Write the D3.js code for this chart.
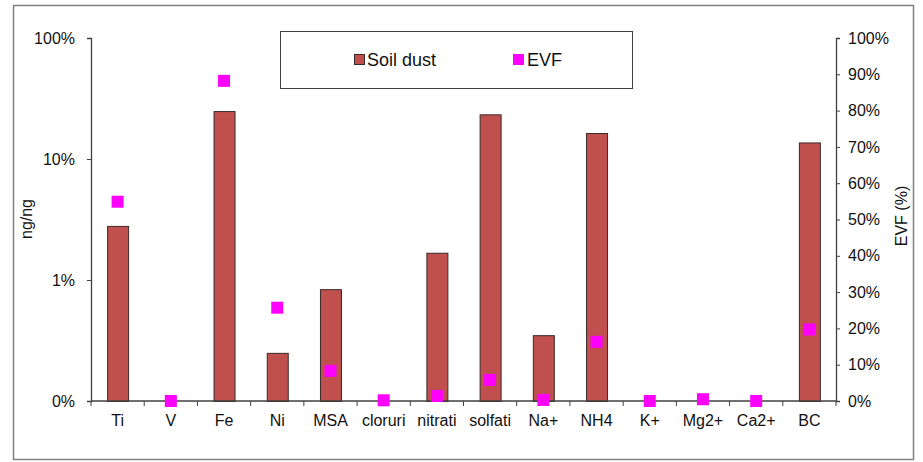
<!DOCTYPE html>
<html><head><meta charset="utf-8">
<script src="https://cdn.jsdelivr.net/npm/d3@7"></script>
<style>body{margin:0;background:#fff;}svg{display:block;font-family:"Liberation Sans",Arial,sans-serif;}</style>
</head><body><svg id="c" width="923" height="462"></svg>
<script>
const categories = ["Ti","V","Fe","Ni","MSA","cloruri","nitrati","solfati","Na+","NH4","K+","Mg2+","Ca2+","BC"];
// Soil dust fraction (ng/ng); null = no bar visible
const soilDust = [0.028, null, 0.249, 0.0025, 0.0084, null, 0.0168, 0.234, 0.0035, 0.164, null, null, null, 0.137];
// EVF (%)
const evf = [54.9, 0, 88.2, 25.7, 8.3, 0.2, 1.4, 5.8, 0.3, 16.3, 0, 0.5, 0, 19.7];
const leftTicks = [0.001, 0.01, 0.1, 1];
const leftTickLabels = ["0%", "1%", "10%", "100%"];
const rightTicks = [0,10,20,30,40,50,60,70,80,90,100];

const svg = d3.select("#c");
const L = 91, R = 836, T = 38, B = 401;
svg.append("rect").attr("x",13.5).attr("y",5.5).attr("width",900).attr("height",454)
  .attr("fill","#fff").attr("stroke","#808080").attr("stroke-width",1.5);

const x = d3.scaleBand().domain(categories).range([L,R]);
const yL = d3.scaleLog().domain([0.001,1]).range([B,T]);
const yR = d3.scaleLinear().domain([0,100]).range([B,T]);

// bars
const bw = 21;
svg.append("g").selectAll("rect").data(categories.map((c,i)=>({c,v:soilDust[i]})).filter(d=>d.v!=null))
  .join("rect")
  .attr("x",d=>x(d.c)+x.bandwidth()/2-bw/2+0.5)
  .attr("y",d=>yL(d.v)+0.5)
  .attr("width",bw)
  .attr("height",d=>B-yL(d.v))
  .attr("fill","#C0504D").attr("stroke","#3a2a2a").attr("stroke-width",1);

// left axis
const axL = svg.append("g").attr("transform",`translate(${L},0)`)
  .call(d3.axisLeft(yL).tickValues(leftTicks).tickFormat((d,i)=>leftTickLabels[i]).tickSize(4).tickPadding(12));
// right axis
const axR = svg.append("g").attr("transform",`translate(${R},0)`)
  .call(d3.axisRight(yR).tickValues(rightTicks).tickFormat(d=>d+"%").tickSize(4).tickPadding(8));
// bottom axis
const axB = svg.append("g").attr("transform",`translate(0,${B})`)
  .call(d3.axisBottom(x).tickSize(0).tickPadding(14));
svg.append("g").selectAll("line").data(d3.range(categories.length+1)).join("line")
  .attr("x1",i=>L+i*x.bandwidth()).attr("x2",i=>L+i*x.bandwidth())
  .attr("y1",B).attr("y2",B+5).attr("stroke","#404040");
[axL,axR,axB].forEach(a=>{
  a.selectAll(".domain").attr("stroke","#404040").attr("stroke-width",1.3);
  a.selectAll(".tick line").attr("stroke","#404040");
  a.selectAll("text").attr("font-family","Liberation Sans, Arial, sans-serif").attr("font-size",16).attr("fill","#111");
});
axB.select(".domain").attr("d",`M${L},0H${R}`);

// EVF markers
const ms = 12;
svg.append("g").selectAll("rect").data(categories.map((c,i)=>({c,v:evf[i]})))
  .join("rect")
  .attr("x",d=>x(d.c)+x.bandwidth()/2-ms/2)
  .attr("y",d=>yR(d.v)-ms/2)
  .attr("width",ms).attr("height",ms).attr("fill","#FF00FF");

// axis titles
svg.append("text").attr("transform","translate(32,219) rotate(-90)").attr("text-anchor","middle")
  .attr("font-size",16).attr("fill","#111").text("ng/ng");
svg.append("text").attr("transform","translate(907,216) rotate(-90)").attr("text-anchor","middle")
  .attr("font-size",16).attr("fill","#111").text("EVF (%)");

// legend
const lg = svg.append("g");
lg.append("rect").attr("x",280.5).attr("y",31.5).attr("width",352).attr("height",57)
  .attr("fill","#fff").attr("stroke","#404040").attr("stroke-width",1);
lg.append("rect").attr("x",354.5).attr("y",54.5).attr("width",10).attr("height",10)
  .attr("fill","#C0504D").attr("stroke","#3a2a2a");
lg.append("text").attr("x",367).attr("y",66).attr("font-size",18).attr("fill","#111").text("Soil dust");
lg.append("rect").attr("x",513).attr("y",54).attr("width",11).attr("height",11).attr("fill","#FF00FF");
lg.append("text").attr("x",527).attr("y",66).attr("font-size",18).attr("fill","#111").text("EVF");
</script></body></html>
